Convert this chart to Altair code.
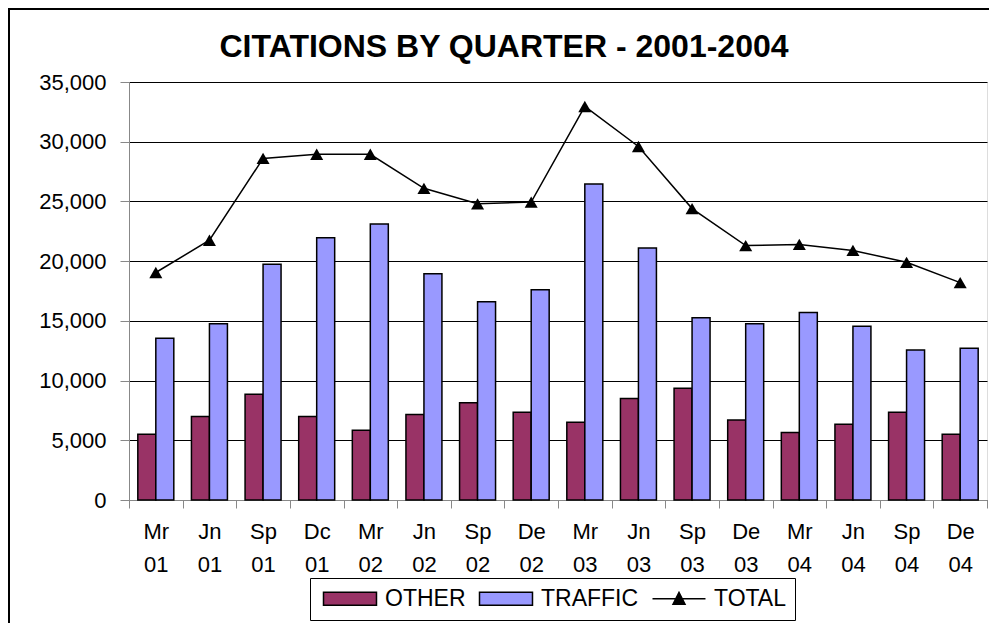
import altair as alt
import pandas as pd

quarters = ["Mr 01", "Jn 01", "Sp 01", "Dc 01", "Mr 02", "Jn 02", "Sp 02", "De 02",
            "Mr 03", "Jn 03", "Sp 03", "De 03", "Mr 04", "Jn 04", "Sp 04", "De 04"]
other = [5500, 7000, 8850, 7000, 5850, 7150, 8150, 7350,
         6500, 8500, 9350, 6700, 5650, 6350, 7350, 5500]
traffic = [13550, 14750, 19750, 21950, 23100, 18950, 16600, 17600,
           26450, 21100, 15250, 14750, 15700, 14550, 12550, 12700]
total = [19050, 21750, 28600, 28950, 28950, 26100, 24800, 24950,
         32950, 29600, 24400, 21300, 21400, 20900, 19900, 18200]

series_names = ["OTHER", "TRAFFIC", "TOTAL"]
series_colors = ["#993366", "#9999FF", "#000000"]
y_ticks = [0, 5000, 10000, 15000, 20000, 25000, 30000, 35000]

bars_df = pd.DataFrame(
    [{"quarter": q, "series": "OTHER", "value": v} for q, v in zip(quarters, other)]
    + [{"quarter": q, "series": "TRAFFIC", "value": v} for q, v in zip(quarters, traffic)]
)
tot_df = pd.DataFrame({"quarter": quarters, "series": "TOTAL", "value": total})

FONT = "Arial, Liberation Sans, sans-serif"

color_scale = alt.Scale(domain=series_names, range=series_colors)
rect_path = "M-1,-0.93H6.57V0.93H-1Z"
total_path = "M-1,0H6.57M1.925,0.8L2.785,-0.9L3.645,0.8Z"
shape_scale = alt.Scale(domain=series_names, range=[rect_path, rect_path, total_path])


def make_legend():
    return alt.Legend(
        title=None, orient="none", legendX=181, legendY=496,
        direction="horizontal", strokeColor="black", fillColor="white",
        padding=9, columnPadding=9, symbolSize=196, symbolStrokeColor="black",
        symbolStrokeWidth=1.5, labelFontSize=23, labelFont=FONT, labelColor="black",
        labelOffset=43,
    )


x_enc = alt.X(
    "quarter:N", sort=quarters,
    scale=alt.Scale(paddingInner=0, paddingOuter=0),
    axis=alt.Axis(title=None, labelAngle=0, labelExpr="split(datum.label, ' ')",
                  tickBand="extent", tickSize=8, labelPadding=13,
                  labelLineHeight=33, labelFontSize=22, grid=False),
)
y_enc = alt.Y(
    "value:Q", scale=alt.Scale(domain=[0, 35000], nice=False),
    axis=alt.Axis(title=None, values=y_ticks, format=",d", tickSize=9,
                  labelPadding=14, labelFontSize=22, grid=True,
                  gridColor="black", gridWidth=1.2, gridOpacity=1),
)

bars = alt.Chart(bars_df).mark_bar(stroke="black", strokeWidth=1.5).encode(
    x=x_enc,
    y=y_enc,
    xOffset=alt.XOffset("series:N", sort=["OTHER", "TRAFFIC"],
                        scale=alt.Scale(domain=["OTHER", "TRAFFIC"],
                                        paddingInner=0, paddingOuter=0.49)),
    color=alt.Color("series:N", scale=color_scale, legend=make_legend()),
)

line = alt.Chart(tot_df).mark_line(color="black", strokeWidth=1.5).encode(
    x=alt.X("quarter:N", sort=quarters),
    y=alt.Y("value:Q"),
)

pts = alt.Chart(tot_df).mark_point(shape="triangle-up", filled=True, size=170,
                                   color="black", opacity=1).encode(
    x=alt.X("quarter:N", sort=quarters),
    y=alt.Y("value:Q"),
)

legend_layer = alt.Chart(tot_df).mark_point(filled=True, opacity=1).encode(
    x=alt.X("quarter:N", sort=quarters),
    y=alt.Y("value:Q"),
    color=alt.Color("series:N", scale=color_scale, legend=make_legend()),
    shape=alt.Shape("series:N", scale=shape_scale, legend=make_legend()),
).transform_filter("false")

frame = alt.Chart(pd.DataFrame({"k": [0]})).mark_rect(
    fill="transparent", stroke="black", strokeWidth=2, clip=False
).encode(
    x=alt.value(-120), x2=alt.value(1200), y=alt.value(-73), y2=alt.value(800)
)

chart = alt.layer(bars, line, pts, legend_layer, frame).properties(
    width=858, height=418,
    autosize=alt.AutoSizeParams(type="none"),
    padding={"left": 121, "top": 74, "right": 2, "bottom": 123},
    title=alt.Title("CITATIONS BY QUARTER - 2001-2004", fontSize=32, font=FONT,
                    fontWeight="bold", color="black", anchor="middle", dx=-54,
                    dy=105, offset=24, baseline="alphabetic"),
).configure_view(
    stroke="#808080", strokeWidth=1.5
).configure_axis(
    domainColor="black", domainWidth=2, tickColor="black", tickWidth=1.5,
    labelFont=FONT, labelColor="black",
).configure(background="white")

chart.save("out.html", embed_options={"renderer": "svg", "actions": False})
